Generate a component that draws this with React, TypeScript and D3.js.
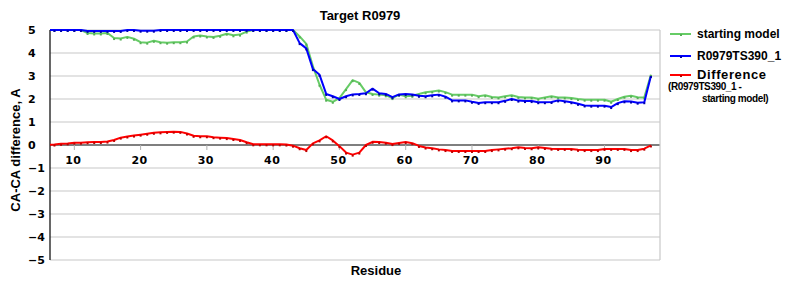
import React from "react";
import * as d3 from "d3";

const residues: number[] = d3.range(6, 98);

const startingModel: number[] = [
  5, 5, 5, 5, 5, 5, 4.87, 4.85, 4.85, 4.87, 4.65, 4.63, 4.7, 4.62, 4.47, 4.45, 4.53, 4.47, 4.45, 4.47,
  4.47, 4.5, 4.72, 4.76, 4.72, 4.7, 4.75, 4.84, 4.77, 4.8, 4.93, 5, 5, 5, 5, 5, 5, 5, 4.72, 4.4,
  3.42, 2.62, 1.97, 1.88, 2.04, 2.43, 2.82, 2.7, 2.29, 2.22, 2.19, 2.16, 2.04, 2.19, 2.12, 2.14, 2.22, 2.29, 2.33, 2.37,
  2.3, 2.19, 2.19, 2.19, 2.19, 2.12, 2.16, 2.09, 2.07, 2.12, 2.16, 2.09, 2.07, 2.07, 2.01, 2.07, 2.12, 2.07, 2.07, 2.04,
  2.0, 1.97, 1.97, 1.97, 1.97, 1.88, 2.0, 2.1, 2.14, 2.08, 2.07, 3.05,
];

const model: number[] = [
  5, 5, 5, 5, 5, 5, 4.96, 4.96, 4.96, 4.96, 4.96, 4.96, 5, 5, 4.97, 4.97, 4.97, 5, 5, 5,
  5, 5, 5, 5, 5, 5, 5, 5, 5, 5, 5, 5, 5, 5, 5, 5, 5, 5, 4.43, 4.2,
  3.3, 3.05, 2.22, 2.12, 2.0, 2.12, 2.2, 2.22, 2.25, 2.45, 2.25, 2.22, 2.08, 2.2, 2.22, 2.2, 2.14, 2.12, 2.16, 2.19,
  2.1, 1.94, 1.94, 1.94, 1.88, 1.83, 1.86, 1.86, 1.86, 1.92, 2.0, 1.93, 1.91, 1.91, 1.86, 1.86, 1.87, 1.94, 1.9, 1.86,
  1.79, 1.72, 1.71, 1.71, 1.71, 1.65, 1.82, 1.9, 1.89, 1.84, 1.86, 3.0,
];

const difference: number[] = [
  0, 0.02, 0.05, 0.07, 0.1, 0.1, 0.12, 0.13, 0.13, 0.15, 0.22, 0.32, 0.37, 0.41, 0.45, 0.49, 0.53, 0.55, 0.57, 0.58,
  0.57, 0.5, 0.4, 0.38, 0.38, 0.34, 0.32, 0.3, 0.26, 0.22, 0.12, 0.03, 0.03, 0.03, 0.03, 0.03, 0.02, -0.03, -0.14, -0.22,
  0.07, 0.2, 0.38, 0.2, -0.05, -0.33, -0.42, -0.33, 0, 0.14, 0.13, 0.1, 0.04, 0.09, 0.13, 0.08, -0.04, -0.11, -0.14, -0.19,
  -0.22, -0.26, -0.26, -0.26, -0.26, -0.26, -0.26, -0.22, -0.19, -0.16, -0.14, -0.1, -0.13, -0.14, -0.1, -0.13, -0.16, -0.17, -0.17, -0.17,
  -0.21, -0.22, -0.22, -0.22, -0.17, -0.17, -0.17, -0.17, -0.22, -0.22, -0.16, -0.02,
];

const xTicks: number[] = [10, 20, 30, 40, 50, 60, 70, 80, 90];
const yTicks: number[] = [5, 4, 3, 2, 1, 0, -1, -2, -3, -4, -5];

const seriesList = [
  { name: "starting model", values: startingModel, color: "#66cc66", marker: "#55b055" },
  { name: "R0979TS390_1", values: model, color: "#0000ff", marker: "#0000b0" },
  { name: "Difference", values: difference, color: "#ff0000", marker: "#c00000" },
];

const W = 800;
const H = 300;
const left = 50;
const right = 660;
const top = 30;
const bottom = 260;

export default function App() {
  const x = d3.scaleLinear().domain([6.33, 98.37]).range([left, right]);
  const y = d3.scaleLinear().domain([-5, 5]).range([bottom, top]);
  const line = d3
    .line<number>()
    .x((_, i) => x(residues[i]))
    .y((d) => y(d));

  const font = "'Liberation Sans', Arial, sans-serif";
  const tickFont = "'DejaVu Sans', sans-serif";

  return (
    <svg
      width={W}
      height={H}
      style={{ position: "absolute", left: 0, top: 0, background: "#fff" }}
      fontFamily={font}
    >
      <defs>
        <clipPath id="plotclip">
          <rect x={left} y={top - 3} width={right - left} height={bottom - top + 6} />
        </clipPath>
      </defs>
      <rect x={0} y={0} width={W} height={H} fill="#fff" />
      {/* grid */}
      {yTicks.map((t) => (
        <line
          key={"g" + t}
          x1={left}
          x2={right}
          y1={y(t)}
          y2={y(t)}
          stroke={t === 0 ? "#000" : "#c8c8c8"}
          strokeWidth={t === 0 ? 1.2 : 1.2}
        />
      ))}
      <line x1={right} x2={right} y1={top} y2={bottom} stroke="#c8c8c8" strokeWidth={1.2} />
      <line x1={left} x2={left} y1={top} y2={bottom} stroke="#000" strokeWidth={1.2} />
      {/* x ticks on zero line */}
      {xTicks.map((t) => (
        <g key={"x" + t}>
          <line x1={x(t)} x2={x(t)} y1={y(0)} y2={y(0) + 5} stroke="#b0b0b0" />
          <text
            x={x(t) - 1}
            y={y(0) + 19}
            textAnchor="middle"
            fontFamily={tickFont}
            fontWeight="bold"
            fontSize={11}
            letterSpacing={0.5}
            fill="#000"
          >
            {t}
          </text>
        </g>
      ))}
      {yTicks.map((t) => (
        <text
          key={"y" + t}
          x={28}
          y={y(t) + 4}
          textAnchor="start"
          fontFamily={tickFont}
          fontWeight="bold"
          fontSize={11}
          fill="#000"
        >
          {t < 0 ? "\u2212" + Math.abs(t) : String(t)}
        </text>
      ))}
      {/* series */}
      <g clipPath="url(#plotclip)">
        {seriesList.map((s) => (
          <g key={s.name}>
            <path d={line(s.values) || ""} fill="none" stroke={s.color} strokeWidth={2} strokeLinejoin="round" />
            {s.values.map((v, i) => (
              <rect
                key={i}
                x={x(residues[i]) - 1}
                y={y(v)}
                width={2}
                height={2}
                fill={s.marker}
              />
            ))}
          </g>
        ))}
      </g>
      {/* titles */}
      <text x={360} y={20} textAnchor="middle" fontWeight="bold" fontSize={13} fill="#000">
        Target R0979
      </text>
      <text
        transform={`translate(20,${150}) rotate(-90)`}
        textAnchor="middle"
        fontWeight="bold"
        fontSize={13}
        fill="#000"
      >
        CA-CA difference, A
      </text>
      <text x={376} y={275} textAnchor="middle" fontWeight="bold" fontSize={13} fill="#000">
        Residue
      </text>
      {/* legend */}
      {seriesList.map((s, i) => {
        const ly = [34, 56, 75][i];
        return (
          <g key={"l" + s.name}>
            <line x1={670} x2={691} y1={ly} y2={ly} stroke={s.color} strokeWidth={2} />
            <rect x={680} y={ly} width={2} height={2} fill={s.marker} />
            <text
              x={697}
              y={ly + 4}
              fontWeight="bold"
              fontSize={i === 2 ? 13 : 12}
              letterSpacing={i === 2 ? 0.6 : 0}
              fill="#000"
            >
              {s.name}
            </text>
          </g>
        );
      })}
      <text x={668} y={90} fontWeight="bold" fontSize={10} letterSpacing={-0.4} fill="#000">
        (R0979TS390_1 -
      </text>
      <text x={702} y={102} fontWeight="bold" fontSize={10} letterSpacing={-0.4} fill="#000">
        starting model)
      </text>
    </svg>
  );
}
